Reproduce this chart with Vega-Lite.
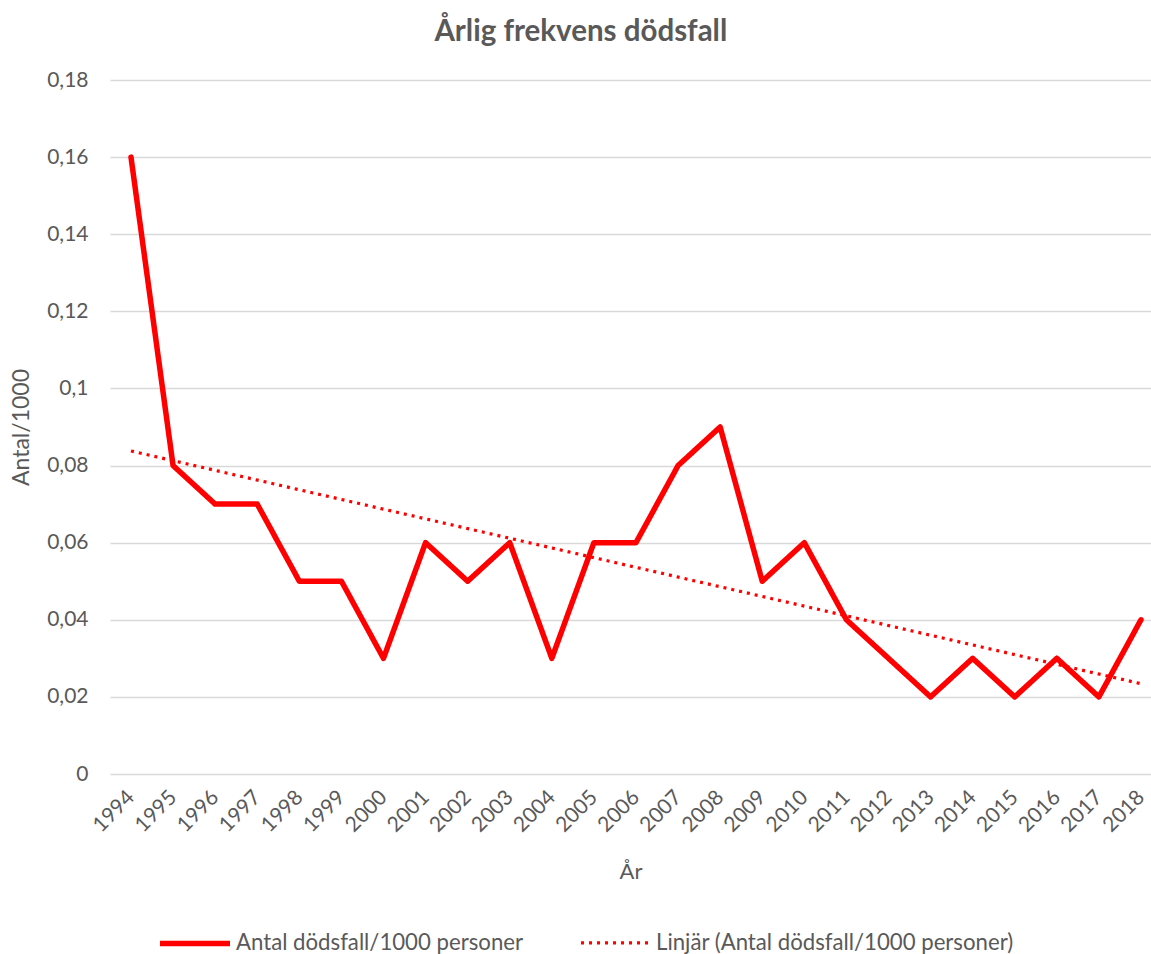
{
  "$schema": "https://vega.github.io/schema/vega-lite/v6.json",
  "width": 1041,
  "height": 694,
  "autosize": {"type": "none"},
  "padding": {"left": 110, "top": 80, "right": 0, "bottom": 180},
  "title": {"text": "Årlig frekvens dödsfall", "fontSize": 29.5, "fontWeight": "bold", "color": "#595959", "font": "Lato", "anchor": "middle", "frame": "bounds", "offset": 22},
  "data": {"values": [
    {"Year": 1994, "value": 0.16, "series": "Antal dödsfall/1000 personer", "trend": "Linjär (Antal dödsfall/1000 personer)"},
    {"Year": 1995, "value": 0.08, "series": "Antal dödsfall/1000 personer", "trend": "Linjär (Antal dödsfall/1000 personer)"},
    {"Year": 1996, "value": 0.07, "series": "Antal dödsfall/1000 personer", "trend": "Linjär (Antal dödsfall/1000 personer)"},
    {"Year": 1997, "value": 0.07, "series": "Antal dödsfall/1000 personer", "trend": "Linjär (Antal dödsfall/1000 personer)"},
    {"Year": 1998, "value": 0.05, "series": "Antal dödsfall/1000 personer", "trend": "Linjär (Antal dödsfall/1000 personer)"},
    {"Year": 1999, "value": 0.05, "series": "Antal dödsfall/1000 personer", "trend": "Linjär (Antal dödsfall/1000 personer)"},
    {"Year": 2000, "value": 0.03, "series": "Antal dödsfall/1000 personer", "trend": "Linjär (Antal dödsfall/1000 personer)"},
    {"Year": 2001, "value": 0.06, "series": "Antal dödsfall/1000 personer", "trend": "Linjär (Antal dödsfall/1000 personer)"},
    {"Year": 2002, "value": 0.05, "series": "Antal dödsfall/1000 personer", "trend": "Linjär (Antal dödsfall/1000 personer)"},
    {"Year": 2003, "value": 0.06, "series": "Antal dödsfall/1000 personer", "trend": "Linjär (Antal dödsfall/1000 personer)"},
    {"Year": 2004, "value": 0.03, "series": "Antal dödsfall/1000 personer", "trend": "Linjär (Antal dödsfall/1000 personer)"},
    {"Year": 2005, "value": 0.06, "series": "Antal dödsfall/1000 personer", "trend": "Linjär (Antal dödsfall/1000 personer)"},
    {"Year": 2006, "value": 0.06, "series": "Antal dödsfall/1000 personer", "trend": "Linjär (Antal dödsfall/1000 personer)"},
    {"Year": 2007, "value": 0.08, "series": "Antal dödsfall/1000 personer", "trend": "Linjär (Antal dödsfall/1000 personer)"},
    {"Year": 2008, "value": 0.09, "series": "Antal dödsfall/1000 personer", "trend": "Linjär (Antal dödsfall/1000 personer)"},
    {"Year": 2009, "value": 0.05, "series": "Antal dödsfall/1000 personer", "trend": "Linjär (Antal dödsfall/1000 personer)"},
    {"Year": 2010, "value": 0.06, "series": "Antal dödsfall/1000 personer", "trend": "Linjär (Antal dödsfall/1000 personer)"},
    {"Year": 2011, "value": 0.04, "series": "Antal dödsfall/1000 personer", "trend": "Linjär (Antal dödsfall/1000 personer)"},
    {"Year": 2012, "value": 0.03, "series": "Antal dödsfall/1000 personer", "trend": "Linjär (Antal dödsfall/1000 personer)"},
    {"Year": 2013, "value": 0.02, "series": "Antal dödsfall/1000 personer", "trend": "Linjär (Antal dödsfall/1000 personer)"},
    {"Year": 2014, "value": 0.03, "series": "Antal dödsfall/1000 personer", "trend": "Linjär (Antal dödsfall/1000 personer)"},
    {"Year": 2015, "value": 0.02, "series": "Antal dödsfall/1000 personer", "trend": "Linjär (Antal dödsfall/1000 personer)"},
    {"Year": 2016, "value": 0.03, "series": "Antal dödsfall/1000 personer", "trend": "Linjär (Antal dödsfall/1000 personer)"},
    {"Year": 2017, "value": 0.02, "series": "Antal dödsfall/1000 personer", "trend": "Linjär (Antal dödsfall/1000 personer)"},
    {"Year": 2018, "value": 0.04, "series": "Antal dödsfall/1000 personer", "trend": "Linjär (Antal dödsfall/1000 personer)"}
  ]},
  "encoding": {
    "x": {"field": "Year", "type": "ordinal", "title": "År",
      "scale": {"type": "point", "padding": 0.3685, "align": 0.677},
      "axis": {"labelAngle": -45, "labelAlign": "right", "labelBaseline": "middle", "labelFontSize": 21, "labelPadding": 20, "titleFontSize": 22, "titlePadding": 26, "grid": false}},
    "y": {"field": "value", "type": "quantitative", "title": "Antal/1000",
      "scale": {"domain": [0, 0.18], "nice": false, "zero": true},
      "axis": {"values": [0, 0.02, 0.04, 0.06, 0.08, 0.1, 0.12, 0.14, 0.16, 0.18], "labelExpr": "replace(format(datum.value, '~g'), '.', ',')", "labelFontSize": 21, "labelPadding": 22, "titleFontSize": 23, "titlePadding": 13, "grid": true}}
  },
  "layer": [
    {
      "mark": {"type": "line", "strokeCap": "round", "strokeJoin": "round"},
      "encoding": {
        "color": {"field": "series", "type": "nominal", "title": null,
          "scale": {"range": ["#ff0000", "#ff0000"]}},
        "strokeDash": {"field": "series", "type": "nominal", "title": null,
          "scale": {"range": [[1, 0], [3, 5]]}},
        "strokeWidth": {"field": "series", "type": "nominal", "title": null,
          "scale": {"range": [5.5, 3.2]}}
      }
    },
    {
      "transform": [{"regression": "value", "on": "Year", "method": "linear", "groupby": ["trend"]}],
      "mark": {"type": "line", "strokeCap": "butt"},
      "encoding": {
        "color": {"field": "trend", "type": "nominal", "title": null},
        "strokeDash": {"field": "trend", "type": "nominal", "title": null},
        "strokeWidth": {"field": "trend", "type": "nominal", "title": null}
      }
    }
  ],
  "config": {
    "view": {"stroke": null},
    "font": "Lato",
    "axis": {"labelColor": "#595959", "titleColor": "#595959", "labelFont": "Lato", "titleFont": "Lato", "titleFontWeight": "normal", "ticks": false, "domain": false, "gridColor": "#d9d9d9", "gridWidth": 1.3},
    "legend": {"orient": "none", "legendX": 47, "legendY": 825, "direction": "horizontal", "symbolType": "stroke", "symbolSize": 4900, "labelFontSize": 22.2, "labelFont": "Lato", "labelColor": "#595959", "columnPadding": 50, "labelOffset": 3, "labelLimit": 600}
  }
}
